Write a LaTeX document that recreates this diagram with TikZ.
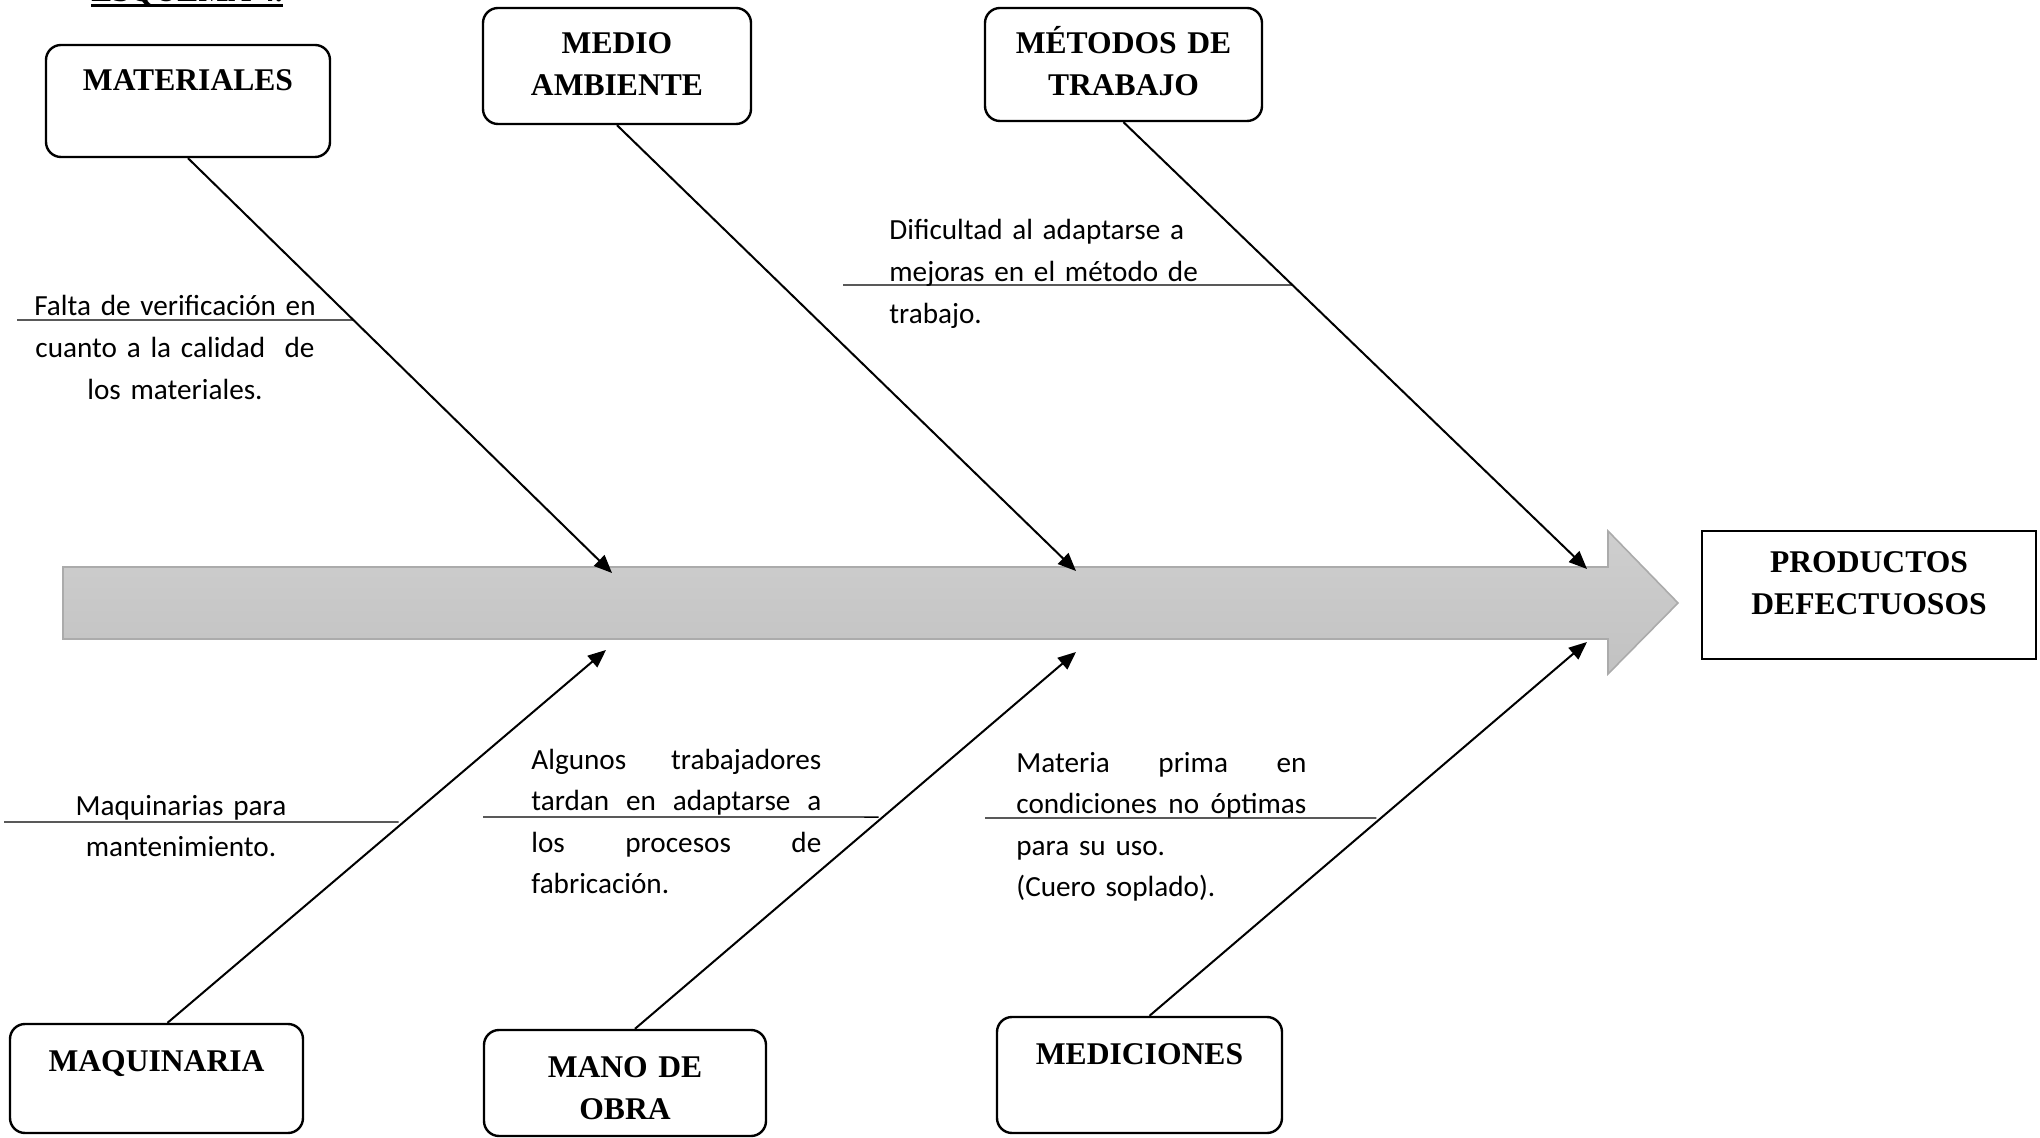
\documentclass[tikz,border=0pt]{standalone}
\usepackage{fontspec}
\setmainfont{Liberation Serif}
\newfontfamily\bodyfont{Carlito}
\usetikzlibrary{arrows.meta,calc}
\newcommand{\jline}[1]{\leavevmode\hbox to 145pt{#1}}
\protected\def\notefont{\bodyfont\fontsize{14.6}{20.8}\selectfont\fontdimen2\font=2.1pt\fontdimen3\font=1pt\fontdimen4\font=0.6pt\relax}
\begin{document}
\begin{tikzpicture}[x=0.5pt,y=-0.5pt,
  titlefont/.style={font=\fontsize{15.8}{21}\selectfont\bfseries},
  cause/.style={draw, line width=1.2pt, rounded corners=7.5pt, inner sep=0pt, align=center, titlefont, anchor=base},
  effect/.style={draw, line width=1.2pt, inner sep=0pt, align=center, titlefont, anchor=base},
  bone/.style={line width=1pt, -{Triangle[length=9pt,width=7.5pt]}},
  uline/.style={line width=0.7pt},
  cnote/.style={font=\notefont, inner sep=0pt, anchor=base, text width=#1},
]
\useasboundingbox (0,0) rectangle (2040,1138);
\clip (0,0) rectangle (2040,1138);

% title (cut off at the top edge)
\node[titlefont, anchor=base west, inner sep=0pt] (esq) at (91,1.5) {ESQUEMA 4.};
\draw[line width=1.3pt] ([yshift=-2pt]esq.base west) -- ([yshift=-2pt]esq.base east);

% main arrow
\path[draw=black!33, line width=0.8pt, top color=black!19, bottom color=black!24]
  (63,567) -- (1608,567) -- (1608,531) -- (1678,603) -- (1608,674) -- (1608,639) -- (63,639) -- cycle;
\coordinate (t1) at (612,573);
\coordinate (t2) at (1076,571);
\coordinate (t3) at (1587,569);
\coordinate (b1) at (606,650);
\coordinate (b2) at (1076,652);
\coordinate (b3) at (1587,642);

% boxes
\node[cause, text width=142pt, text height=23pt, text depth=33pt] (mat) at (188,91) {MATERIALES};
\node[cause, text width=134pt, text height=23pt, text depth=35pt] (med) at (617,54) {MEDIO\\AMBIENTE};
\node[cause, text width=138.5pt, text height=23pt, text depth=33.5pt] (met) at (1123.5,54) {MÉTODOS DE\\TRABAJO};
\node[effect, text width=167pt, text height=21pt, text depth=43pt] (prod) at (1869,573) {PRODUCTOS\\DEFECTUOSOS};
\node[cause, text width=146.5pt, text height=23.5pt, text depth=31pt] (maq) at (156.5,1071) {MAQUINARIA};
\node[cause, text width=141pt, text height=23.5pt, text depth=29.5pt] (mano) at (625,1077) {MANO DE\\OBRA};
\node[cause, text width=142.5pt, text height=23.5pt, text depth=34.5pt] (medi) at (1139.5,1064) {MEDICIONES};

% bones
\draw[bone] (mat.south) -- (t1);
\draw[bone] (med.south) -- (t2);
\draw[bone] (met.south) -- (t3);
\draw[bone] ([xshift=5.5pt]maq.north) -- (b1);
\draw[bone] ([xshift=5pt]mano.north) -- (b2);
\draw[bone] ([xshift=5pt]medi.north) -- (b3);

% underlines
\coordinate (u1) at (17,320);   \coordinate (u1r) at (18,320);
\coordinate (u2) at (843,285);  \coordinate (u2r) at (844,285);
\coordinate (u3) at (4,822);    \coordinate (u3r) at (5,822);
\coordinate (u4) at (483,817);  \coordinate (u4r) at (484,817);
\coordinate (u5) at (985,818);  \coordinate (u5r) at (986,818);
\draw[uline] (u1) -- (intersection of u1--u1r and mat.south--t1);
\draw[uline] (u2) -- (intersection of u2--u2r and met.south--t3);
\draw[uline] (u3) -- (intersection of u3--u3r and b1--maq.north);
\draw[uline] (u4) -- (intersection of u4--u4r and b2--mano.north);
\draw[uline] (u5) -- (intersection of u5--u5r and b3--medi.north);

% notes
\node[cnote=170pt, align=center] (n1) at (175,316) {Falta de verificación en\\cuanto a la calidad\ \ de\\los materiales.};
\node[cnote=200pt, align=left, anchor=base west] (n2) at (889,240) {Dificultad al adaptarse a\\mejoras en el método de\\trabajo.};
\node[cnote=170pt, align=center] (n3) at (181,815) {Maquinarias para\\mantenimiento.};
\node[cnote=145pt, align=left, anchor=base west] (n4) at (531,769) {\jline{Algunos\hfill trabajadores}\\\jline{tardan\hfill en\hfill adaptarse\hfill a}\\\jline{los\hfill procesos\hfill de}\\fabricación.};
\node[cnote=145pt, align=left, anchor=base west] (n5) at (1016,772) {\jline{Materia\hfill prima\hfill en}\\\jline{condiciones\hfill no\hfill óptimas}\\para su uso.\\(Cuero soplado).};
\end{tikzpicture}
\end{document}
